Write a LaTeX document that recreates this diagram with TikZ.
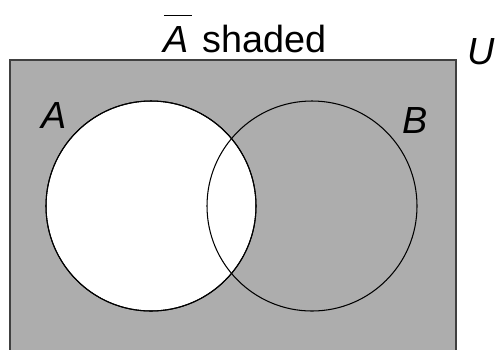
\documentclass[tikz,border=0pt]{standalone}
\usepackage{fontspec}
\setmainfont{Liberation Sans}
\usepackage{tikz}
\usetikzlibrary{positioning}
\definecolor{shadegray}{gray}{0.68}
\tikzset{
    setcircle/.style={
        circle,
        draw,
        line width=0.6pt,
        minimum size=210*0.02cm,
        inner sep=0pt
    },
    setlabel/.style={
        font=\fontsize{21.5}{24}\selectfont\itshape,
        inner sep=0pt,
        anchor=base
    }
}

\begin{document}
\begin{tikzpicture}[
    x=0.02cm,
    y=-0.02cm
]

    % Lienzo
    \useasboundingbox (0,0) rectangle (499,349);
    \clip (0,0) rectangle (499,349);

    % Universo
    \draw[fill=shadegray, line width=0.6pt, draw=black!75] (10,60) rectangle (456,360);

    % Conjuntos
    \node[setcircle, fill=white] (A) at (151,206) {};
    \node[setcircle]             (B) at (312,206) {};
    \draw[line width=0.6pt] (A.center) circle[radius=105];

    % Etiquetas
    \node[setlabel] (titulo) at (245,52)
        {$\overline{\mbox{\itshape A\kern1.5pt\rule{0pt}{19.5pt}}}$\upshape\ shaded};
    \node[setlabel] (U)  at (481,64)  {U};
    \node[setlabel] (lA) at (54,128)  {A};
    \node[setlabel] (lB) at (415,133) {B};

\end{tikzpicture}
\end{document}
